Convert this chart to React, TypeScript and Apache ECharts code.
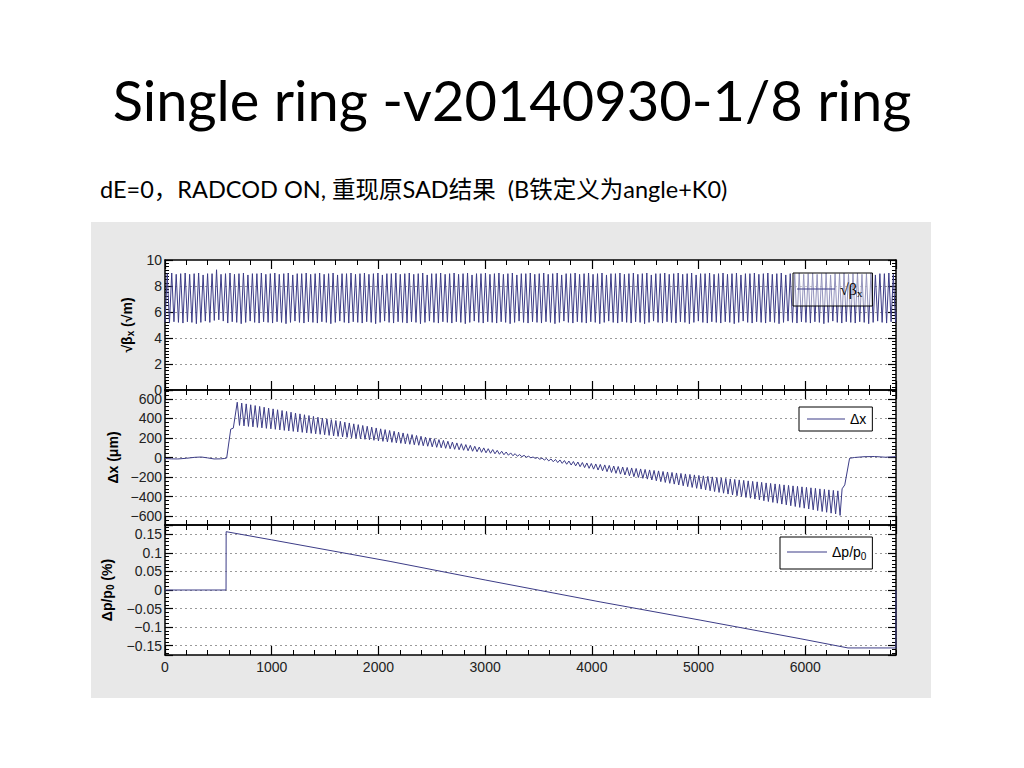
import React, { useEffect, useRef } from 'react';
import * as echarts from 'echarts';

const TITLE = 'Single ring -v20140930-1/8 ring';
const SUBTITLE = 'dE=0，RADCOD ON, 重现原SAD结果  (B铁定义为angle+K0)';

const BETA_NAME = '√βx';
const DX_NAME = 'Δx';
const DP_NAME = 'Δp/p0';

const S_MIN = 0;
const S_MAX = 6850;
const xTickLabels = [0, 1000, 2000, 3000, 4000, 5000, 6000];
const yTicksBeta = [0, 2, 4, 6, 8, 10];
const yTicksDx = [-600, -400, -200, 0, 200, 400, 600];
const yTicksDp = [-0.15, -0.1, -0.05, 0, 0.05, 0.1, 0.15];

// sqrt(beta_x) [sqrt(m)] vs s [m]
const betaData: [number, number][] = [
  [0,5.2],[21,8.95],[42,5.15],[63,9.0],[84,5.25],[105,8.9],[126,5.2],[147,8.95],[168,5.15],[189,9.0],
  [210,5.25],[231,8.9],[252,5.2],[273,8.95],[294,5.1],[315,9.0],[336,5.2],[357,8.85],[378,5.3],[399,8.95],
  [420,5.2],[441,8.95],[462,5.35],[483,9.25],[504,5.4],[525,8.9],[546,5.3],[567,8.95],[588,5.15],[609,9.0],
  [630,5.25],[651,8.9],[672,5.2],[693,8.95],[714,5.1],[735,9.0],[756,5.2],[777,8.85],[798,5.3],[819,8.95],
  [840,5.2],[861,8.95],[882,5.15],[903,9.0],[924,5.25],[945,8.9],[966,5.2],[987,8.95],[1008,5.15],[1029,9.0],
  [1050,5.25],[1071,8.9],[1092,5.2],[1113,8.95],[1134,5.1],[1155,9.0],[1176,5.2],[1197,8.85],[1218,5.3],[1239,8.95],
  [1260,5.2],[1281,8.95],[1302,5.15],[1323,9.0],[1344,5.25],[1365,8.9],[1386,5.2],[1407,8.95],[1428,5.15],[1449,9.0],
  [1470,5.25],[1491,8.9],[1512,5.2],[1533,8.95],[1554,5.1],[1575,9.0],[1596,5.2],[1617,8.85],[1638,5.3],[1659,8.95],
  [1680,5.2],[1701,8.95],[1722,5.15],[1743,9.0],[1764,5.25],[1785,8.9],[1806,5.2],[1827,8.95],[1848,5.15],[1869,9.0],
  [1890,5.25],[1911,8.9],[1932,5.2],[1953,8.95],[1974,5.1],[1995,9.0],[2016,5.2],[2037,8.85],[2058,5.3],[2079,8.95],
  [2100,5.2],[2121,8.95],[2142,5.15],[2163,9.0],[2184,5.25],[2205,8.9],[2226,5.2],[2247,8.95],[2268,5.15],[2289,9.0],
  [2310,5.25],[2331,8.9],[2352,5.2],[2373,8.95],[2394,5.1],[2415,9.0],[2436,5.2],[2457,8.85],[2478,5.3],[2499,8.95],
  [2520,5.2],[2541,8.95],[2562,5.15],[2583,9.0],[2604,5.25],[2625,8.9],[2646,5.2],[2667,8.95],[2688,5.15],[2709,9.0],
  [2730,5.25],[2751,8.9],[2772,5.2],[2793,8.95],[2814,5.1],[2835,9.0],[2856,5.2],[2877,8.85],[2898,5.3],[2919,8.95],
  [2940,5.2],[2961,8.95],[2982,5.15],[3003,9.0],[3024,5.25],[3045,8.9],[3066,5.2],[3087,8.95],[3108,5.15],[3129,9.0],
  [3150,5.25],[3171,8.9],[3192,5.2],[3213,8.95],[3234,5.1],[3255,9.0],[3276,5.2],[3297,8.85],[3318,5.3],[3339,8.95],
  [3360,5.2],[3381,8.95],[3402,5.15],[3423,9.0],[3444,5.25],[3465,8.9],[3486,5.2],[3507,8.95],[3528,5.15],[3549,9.0],
  [3570,5.25],[3591,8.9],[3612,5.2],[3633,8.95],[3654,5.1],[3675,9.0],[3696,5.2],[3717,8.85],[3738,5.3],[3759,8.95],
  [3780,5.2],[3801,8.95],[3822,5.15],[3843,9.0],[3864,5.25],[3885,8.9],[3906,5.2],[3927,8.95],[3948,5.15],[3969,9.0],
  [3990,5.25],[4011,8.9],[4032,5.2],[4053,8.95],[4074,5.1],[4095,9.0],[4116,5.2],[4137,8.85],[4158,5.3],[4179,8.95],
  [4200,5.2],[4221,8.95],[4242,5.15],[4263,9.0],[4284,5.25],[4305,8.9],[4326,5.2],[4347,8.95],[4368,5.15],[4389,9.0],
  [4410,5.25],[4431,8.9],[4452,5.2],[4473,8.95],[4494,5.1],[4515,9.0],[4536,5.2],[4557,8.85],[4578,5.3],[4599,8.95],
  [4620,5.2],[4641,8.95],[4662,5.15],[4683,9.0],[4704,5.25],[4725,8.9],[4746,5.2],[4767,8.95],[4788,5.15],[4809,9.0],
  [4830,5.25],[4851,8.9],[4872,5.2],[4893,8.95],[4914,5.1],[4935,9.0],[4956,5.2],[4977,8.85],[4998,5.3],[5019,8.95],
  [5040,5.2],[5061,8.95],[5082,5.15],[5103,9.0],[5124,5.25],[5145,8.9],[5166,5.2],[5187,8.95],[5208,5.15],[5229,9.0],
  [5250,5.25],[5271,8.9],[5292,5.2],[5313,8.95],[5334,5.1],[5355,9.0],[5376,5.2],[5397,8.85],[5418,5.3],[5439,8.95],
  [5460,5.2],[5481,8.95],[5502,5.15],[5523,9.0],[5544,5.25],[5565,8.9],[5586,5.2],[5607,8.95],[5628,5.15],[5649,9.0],
  [5670,5.25],[5691,8.9],[5712,5.2],[5733,8.95],[5754,5.1],[5775,9.0],[5796,5.2],[5817,8.85],[5838,5.3],[5859,8.95],
  [5880,5.2],[5901,8.95],[5922,5.15],[5943,9.0],[5964,5.25],[5985,8.9],[6006,5.2],[6027,8.95],[6048,5.15],[6069,9.0],
  [6090,5.25],[6111,8.9],[6132,5.2],[6153,8.95],[6174,5.1],[6195,9.0],[6216,5.2],[6237,8.85],[6258,5.3],[6279,8.95],
  [6300,5.2],[6321,8.95],[6342,5.15],[6363,9.0],[6384,5.25],[6405,8.9],[6426,5.2],[6447,8.95],[6468,5.15],[6489,9.0],
  [6510,5.25],[6531,8.9],[6552,5.2],[6573,8.95],[6594,5.1],[6615,9.0],[6636,5.2],[6657,8.85],[6678,5.3],[6699,8.95],
  [6720,5.2],[6741,8.95],[6762,5.15],[6783,9.0],[6804,5.25],[6825,8.9],[6846,5.2],[6850,6.0],
];

// Δx [μm] vs s [m]
const dxData: [number, number][] = [
  [0,-10],[60,-14],[120,-15],[200,-8],[280,2],[340,5],[400,-4],[460,-15],[520,-14],[560,-10],[578,-5],
  [616,290],[640,300],
  [677,565],[698,328],[719,556],[740,323],[761,548],[782,318],[803,539],[824,313],[845,531],[866,308],
  [887,522],[908,303],[929,514],[950,298],[971,505],[992,293],[1013,497],[1034,288],[1055,488],[1076,282],
  [1097,480],[1118,277],[1139,471],[1160,272],[1181,463],[1202,267],[1223,454],[1244,262],[1265,446],[1286,257],
  [1307,437],[1328,252],[1349,429],[1370,247],[1391,420],[1412,242],[1433,412],[1454,237],[1475,403],[1496,232],
  [1517,395],[1538,226],[1559,387],[1580,221],[1601,378],[1622,216],[1643,370],[1664,211],[1685,361],[1706,206],
  [1727,353],[1748,201],[1769,344],[1790,196],[1811,336],[1832,191],[1853,327],[1874,186],[1895,319],[1916,181],
  [1937,310],[1958,176],[1979,302],[2000,170],[2021,293],[2042,165],[2063,285],[2084,160],[2105,276],[2126,155],
  [2147,268],[2168,150],[2189,259],[2210,145],[2231,251],[2252,140],[2273,242],[2294,135],[2315,234],[2336,130],
  [2357,225],[2378,125],[2399,217],[2420,120],[2441,208],[2462,115],[2483,200],[2504,109],[2525,192],[2546,104],
  [2567,183],[2588,99],[2609,175],[2630,94],[2651,166],[2672,89],[2693,158],[2714,84],[2735,149],[2756,79],
  [2777,141],[2798,74],[2819,132],[2840,69],[2861,124],[2882,64],[2903,115],[2924,59],[2945,107],[2966,53],
  [2987,98],[3008,48],[3029,90],[3050,43],[3071,81],[3092,38],[3113,73],[3134,33],[3155,64],[3176,28],
  [3197,56],[3218,23],[3239,47],[3260,18],[3281,39],[3302,13],[3323,30],[3344,8],[3365,22],[3386,3],
  [3407,13],[3428,-3],[3449,5],[3470,-9],[3491,0],[3512,-18],[3533,-5],[3554,-26],[3575,-10],[3596,-35],
  [3617,-15],[3638,-43],[3659,-20],[3680,-52],[3701,-25],[3722,-60],[3743,-31],[3764,-69],[3785,-36],[3806,-77],
  [3827,-41],[3848,-86],[3869,-46],[3890,-94],[3911,-51],[3932,-103],[3953,-56],[3974,-111],[3995,-61],[4016,-119],
  [4037,-66],[4058,-128],[4079,-71],[4100,-136],[4121,-76],[4142,-145],[4163,-81],[4184,-153],[4205,-87],[4226,-162],
  [4247,-92],[4268,-170],[4289,-97],[4310,-179],[4331,-102],[4352,-187],[4373,-107],[4394,-196],[4415,-112],[4436,-204],
  [4457,-117],[4478,-213],[4499,-122],[4520,-221],[4541,-127],[4562,-230],[4583,-132],[4604,-238],[4625,-137],[4646,-247],
  [4667,-143],[4688,-255],[4709,-148],[4730,-264],[4751,-153],[4772,-272],[4793,-158],[4814,-281],[4835,-163],[4856,-289],
  [4877,-168],[4898,-298],[4919,-173],[4940,-306],[4961,-178],[4982,-315],[5003,-183],[5024,-323],[5045,-188],[5066,-331],
  [5087,-193],[5108,-340],[5129,-198],[5150,-348],[5171,-204],[5192,-357],[5213,-209],[5234,-365],[5255,-214],[5276,-374],
  [5297,-219],[5318,-382],[5339,-224],[5360,-391],[5381,-229],[5402,-399],[5423,-234],[5444,-408],[5465,-239],[5486,-416],
  [5507,-244],[5528,-425],[5549,-249],[5570,-433],[5591,-254],[5612,-442],[5633,-260],[5654,-450],[5675,-265],[5696,-459],
  [5717,-270],[5738,-467],[5759,-275],[5780,-476],[5801,-280],[5822,-484],[5843,-285],[5864,-493],[5885,-290],[5906,-501],
  [5927,-295],[5948,-510],[5969,-300],[5990,-518],[6011,-305],[6032,-526],[6053,-310],[6074,-535],[6095,-315],[6116,-543],
  [6137,-321],[6158,-552],[6179,-326],[6200,-560],[6221,-331],[6242,-569],[6263,-336],[6284,-577],[6305,-341],[6326,-592],
  [6345,-320],[6370,-280],[6415,-8],[6460,0],[6550,8],[6650,10],[6750,3],[6850,8],
];

// Δp/p0 [%] vs s [m]
const dpData: [number, number][] = [
  [0,0],[572,0],[573,0.157],[1000,0.135],[2109,0.077],[3000,0.027],[4077,-0.032],
  [5014,-0.081],[5951,-0.131],[6400,-0.156],[6849,-0.156],[6850,0],
];

const LINE_COLOR = '#3c3c87';
const FONT = "'Liberation Sans', Arial, sans-serif";

const fmt = (v: number) => {
  const r = Math.round(v * 1000) / 1000;
  return (r === 0 ? '0' : String(r)).replace('-', '\u2212');
};
const inList = (list: number[], v: number) => list.some((t) => Math.abs(t - v) < 1e-9);

const tickLabel = { color: '#222', fontSize: 14, fontFamily: FONT };

function xMajor(gi: number, pos: string, labels: boolean) {
  return {
    type: 'value', gridIndex: gi, position: pos, min: S_MIN, max: S_MAX, interval: 1000,
    axisLine: { show: true, onZero: false, lineStyle: { color: '#000', width: 1.5 } },
    axisTick: { show: true, inside: true, length: 9, lineStyle: { color: '#000', width: 1.2 } },
    minorTick: { show: false },
    splitLine: { show: false },
    axisLabel: labels
      ? { show: true, ...tickLabel, margin: 5, showMinLabel: true, showMaxLabel: false,
          formatter: (v: number) => (inList(xTickLabels, v) ? String(v) : '') }
      : { show: false },
  };
}
function xMinor(gi: number, pos: string) {
  return {
    type: 'value', gridIndex: gi, position: pos, min: S_MIN, max: S_MAX, interval: 200,
    axisLine: { show: false, onZero: false },
    axisTick: { show: true, inside: true, length: 5, lineStyle: { color: '#000', width: 1 } },
    axisLabel: { show: false },
    splitLine: { show: false },
  };
}

const nameRich = {
  t: { fontFamily: FONT, fontSize: 14, fontWeight: 'bold', color: '#000', lineHeight: 18, verticalAlign: 'middle' },
  s: { fontFamily: FONT, fontSize: 10, fontWeight: 'bold', color: '#000', lineHeight: 18, verticalAlign: 'bottom' },
};

const panels = [
  { gi: 0, min: 0, max: 10, interval: 2, minor: 8, ticks: yTicksBeta, edge: true,
    name: '{t|√β}{s|x}{t| (√m)}', gap: 21 },
  { gi: 1, min: -690, max: 690, splitNumber: 7, minor: 5, ticks: yTicksDx, edge: false,
    name: '{t|Δx (μm)}', gap: 28 },
  { gi: 2, min: -0.175, max: 0.175, splitNumber: 7, minor: 5, ticks: yTicksDp, edge: false,
    name: '{t|Δp/p}{s|0}{t| (%)}', gap: 35 },
];

function yAxisOf(p: any, side: 'left' | 'right') {
  const left = side === 'left';
  const ax: any = {
    type: 'value', gridIndex: p.gi, position: side, min: p.min, max: p.max,
    axisLine: { show: true, onZero: false, lineStyle: { color: '#000', width: 1.5 } },
    axisTick: { show: true, inside: true, length: 8, lineStyle: { color: '#000', width: 1.2 } },
    minorTick: { show: true, splitNumber: p.minor, length: 4, lineStyle: { color: '#000', width: 1 } },
    splitLine: left
      ? { show: true, showMinLine: false, showMaxLine: false, lineStyle: { color: '#9a9a9a', width: 1, type: [2, 3] } }
      : { show: false },
    axisLabel: left
      ? { show: true, ...tickLabel, margin: 3, showMinLabel: p.edge, showMaxLabel: p.edge,
          formatter: (v: number) => (inList(p.ticks, v) ? fmt(v) : '') }
      : { show: false },
  };
  if (p.interval != null) ax.interval = p.interval;
  if (p.splitNumber != null) ax.splitNumber = p.splitNumber;
  if (left) {
    ax.name = p.name;
    ax.nameLocation = 'middle';
    ax.nameRotate = 90;
    ax.nameGap = p.gap;
    ax.nameTextStyle = { fontFamily: FONT, fontSize: 14, fontWeight: 'bold', color: '#000', rich: nameRich };
  }
  return ax;
}

const legendRich = {
  a: { fontFamily: FONT, fontSize: 14, color: '#000', lineHeight: 18, verticalAlign: 'middle' },
  g: { fontFamily: "'Liberation Serif', serif", fontSize: 16, color: '#000', lineHeight: 18, verticalAlign: 'middle' },
  b: { fontFamily: FONT, fontSize: 10, color: '#000', lineHeight: 18, verticalAlign: 'bottom' },
  gb: { fontFamily: "'Liberation Serif', serif", fontSize: 11, color: '#000', lineHeight: 18, verticalAlign: 'bottom' },
};
const legendFormatter = (n: string) =>
  n === BETA_NAME ? '{g|√β}{gb|x}' : n === DP_NAME ? '{a|Δp/p}{b|0}' : '{a|' + n + '}';

function legendOf(name: string, left: number, top: number, itemWidth: number, padding: number[], bg: string) {
  return {
    show: true, selectedMode: false, data: [name], left, top, orient: 'horizontal',
    icon: 'rect', itemWidth, itemHeight: 1, itemGap: 0, padding,
    itemStyle: { color: LINE_COLOR, borderWidth: 0 },
    backgroundColor: bg, borderColor: '#000', borderWidth: 1, borderRadius: 0,
    formatter: legendFormatter,
    textStyle: { fontFamily: FONT, fontSize: 14, color: '#000', rich: legendRich },
  };
}

function buildOption() {
  const xAxis: any[] = [];
  const yAxis: any[] = [];
  for (let gi = 0; gi < 3; gi++) {
    xAxis.push(xMajor(gi, 'bottom', gi === 2), xMajor(gi, 'top', false), xMinor(gi, 'bottom'), xMinor(gi, 'top'));
  }
  panels.forEach((p) => {
    yAxis.push(yAxisOf(p, 'left'), yAxisOf(p, 'right'));
  });
  const lineSeries = (name: string, gi: number, data: [number, number][]) => ({
    type: 'line', name, xAxisIndex: gi * 4, yAxisIndex: gi * 2, data,
    symbol: 'none', showSymbol: false, silent: true, clip: true,
    lineStyle: { color: LINE_COLOR, width: 1 }, itemStyle: { color: LINE_COLOR },
    emphasis: { disabled: true },
  });
  return {
    animation: false,
    backgroundColor: 'transparent',
    title: [
      { text: TITLE, left: 'center', top: 67, padding: 0,
        textStyle: { fontFamily: 'Lato, sans-serif', fontSize: 56, fontWeight: 'normal', color: '#000', lineHeight: 64 } },
      { text: SUBTITLE, left: 100, top: 175, padding: 0,
        textStyle: { fontFamily: "Lato, 'Noto Sans CJK SC', sans-serif", fontSize: 23.5, fontWeight: 'normal', color: '#000', lineHeight: 28 } },
    ],
    grid: [
      { left: 165, top: 260, width: 731, height: 130, show: true, backgroundColor: '#fff', borderWidth: 0 },
      { left: 165, top: 390, width: 731, height: 135, show: true, backgroundColor: '#fff', borderWidth: 0 },
      { left: 165, top: 525, width: 731, height: 130, show: true, backgroundColor: '#fff', borderWidth: 0 },
    ],
    xAxis,
    yAxis,
    legend: [
      legendOf(BETA_NAME, 793, 273, 38, [8, 10, 8, 4], 'rgba(255,255,255,0.45)'),
      legendOf(DX_NAME, 799, 407, 38, [5, 6, 5, 8], '#fff'),
      legendOf(DP_NAME, 780, 537, 40, [8, 6, 8, 7], '#fff'),
    ],
    series: [
      lineSeries(BETA_NAME, 0, betaData),
      lineSeries(DX_NAME, 1, dxData),
      lineSeries(DP_NAME, 2, dpData),
    ],
  };
}

export default function App() {
  const ref = useRef<HTMLDivElement>(null);
  useEffect(() => {
    if (!ref.current) return;
    const chart = echarts.init(ref.current, null, { renderer: 'svg' });
    chart.setOption(buildOption() as any);
    return () => chart.dispose();
  }, []);
  return (
    <div style={{ position: 'absolute', left: 0, top: 0, width: 1024, height: 768, background: '#fff', overflow: 'hidden' }}>
      <div style={{ position: 'absolute', left: 91, top: 222, width: 840, height: 476, background: '#e8e8e8' }} />
      <div ref={ref} style={{ position: 'absolute', left: 0, top: 0, width: 1024, height: 768 }} />
    </div>
  );
}
